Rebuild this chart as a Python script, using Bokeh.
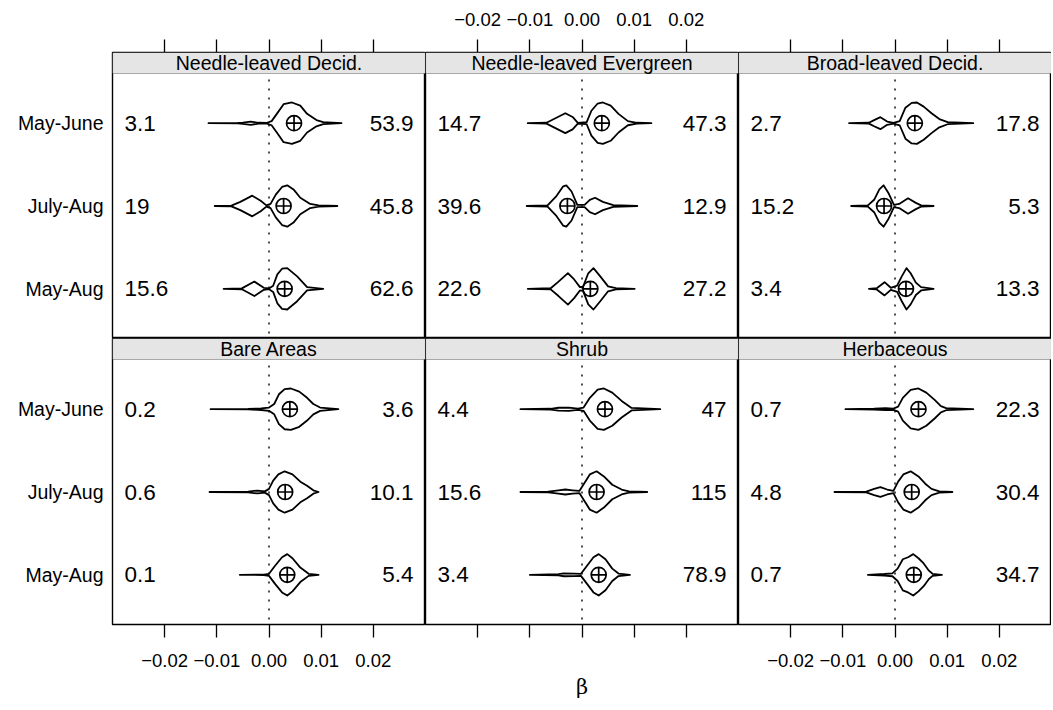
from bokeh.plotting import figure
from bokeh.layouts import gridplot
from bokeh.models import (Range1d, LinearAxis, FixedTicker, CustomJSTickFormatter,
                          BoxAnnotation, Label, Span)
from bokeh.embed import file_html
from bokeh.resources import INLINE
from bokeh.core.properties import value

# ---------------- data ----------------
cover_types = ["Needle-leaved Decid.", "Needle-leaved Evergreen", "Broad-leaved Decid.",
               "Bare Areas", "Shrub", "Herbaceous"]
periods = ["May-June", "July-Aug", "May-Aug"]
beta_ticks = [-0.02, -0.01, 0.0, 0.01, 0.02]
beta_limits = (-0.03, 0.03)

left_numbers = [[3.1, 19, 15.6], [14.7, 39.6, 22.6], [2.7, 15.2, 3.4],
                [0.2, 0.6, 0.1], [4.4, 15.6, 3.4], [0.7, 4.8, 0.7]]
right_numbers = [[53.9, 45.8, 62.6], [47.3, 12.9, 27.2], [17.8, 5.3, 13.3],
                 [3.6, 10.1, 5.4], [47, 115, 78.9], [22.3, 30.4, 34.7]]
medians = [[0.0048, 0.0028, 0.0030], [0.0038, -0.0028, 0.0016], [0.0038, -0.0021, 0.0021],
           [0.0040, 0.0031, 0.0035], [0.0044, 0.0028, 0.0032], [0.0045, 0.0032, 0.0036]]

# violin outlines: (beta, relative density)
nld_mj = [(-0.0116, 0.0), (-0.0060, 0.01), (-0.0050, 0.03), (-0.0035, 0.08), (-0.0020, 0.02),
          (-0.0005, 0.01), (0.0005, 0.10), (0.0015, 0.45), (0.0028, 0.92), (0.0044, 1.0),
          (0.0060, 0.85), (0.0073, 0.45), (0.0091, 0.15), (0.0104, 0.05), (0.0139, 0.0)]
nld_ja = [(-0.0104, 0.0), (-0.0072, 0.02), (-0.0055, 0.20), (-0.0032, 0.50), (-0.0016, 0.25),
          (-0.0005, 0.03), (0.0003, 0.10), (0.0013, 0.55), (0.0025, 0.92), (0.0035, 1.0),
          (0.0047, 0.80), (0.0060, 0.40), (0.0079, 0.10), (0.0095, 0.03), (0.0131, 0.0)]
nld_ma = [(-0.0087, 0.0), (-0.0052, 0.02), (-0.0028, 0.35), (-0.0010, 0.05), (0.0000, 0.02),
          (0.0008, 0.15), (0.0016, 0.70), (0.0025, 0.97), (0.0035, 1.0), (0.0054, 0.60),
          (0.0073, 0.08), (0.0104, 0.0)]
nle_mj = [(-0.0104, 0.0), (-0.0068, 0.02), (-0.0050, 0.25), (-0.0032, 0.48), (-0.0018, 0.30),
          (-0.0008, 0.02), (0.0009, 0.05), (0.0018, 0.60), (0.0030, 0.95), (0.0040, 1.0),
          (0.0055, 0.85), (0.0070, 0.45), (0.0088, 0.10), (0.0105, 0.02), (0.0133, 0.0)]
nle_ja = [(-0.0106, 0.0), (-0.0066, 0.03), (-0.0050, 0.45), (-0.0036, 0.95), (-0.0030, 1.0),
          (-0.0020, 0.70), (-0.0009, 0.05), (0.0005, 0.05), (0.0015, 0.30), (0.0025, 0.40),
          (0.0040, 0.20), (0.0060, 0.04), (0.0106, 0.0)]
nle_ma = [(-0.0104, 0.0), (-0.0060, 0.03), (-0.0045, 0.35), (-0.0027, 0.76), (-0.0015, 0.45),
          (-0.0004, 0.08), (0.0002, 0.10), (0.0012, 0.75), (0.0022, 1.0), (0.0035, 0.60),
          (0.0050, 0.12), (0.0065, 0.03), (0.0101, 0.0)]
bld_mj = [(-0.0088, 0.0), (-0.0050, 0.02), (-0.0040, 0.15), (-0.0028, 0.29), (-0.0015, 0.08),
          (-0.0003, 0.02), (0.0009, 0.10), (0.0020, 0.75), (0.0032, 0.98), (0.0042, 1.0),
          (0.0055, 0.80), (0.0070, 0.48), (0.0085, 0.20), (0.0101, 0.05), (0.0150, 0.0)]
bld_ja = [(-0.0084, 0.0), (-0.0052, 0.03), (-0.0040, 0.30), (-0.0030, 0.80), (-0.0022, 1.0),
          (-0.0012, 0.60), (-0.0002, 0.05), (0.0008, 0.10), (0.0025, 0.37), (0.0040, 0.15),
          (0.0050, 0.03), (0.0074, 0.0)]
bld_ma = [(-0.0050, 0.0), (-0.0035, 0.03), (-0.0020, 0.32), (-0.0008, 0.05), (0.0004, 0.15),
          (0.0013, 0.60), (0.0022, 1.0), (0.0030, 0.75), (0.0040, 0.30), (0.0050, 0.08),
          (0.0074, 0.0)]
bare_mj = [(-0.0112, 0.0), (-0.0040, 0.01), (-0.0015, 0.04), (0.0000, 0.08), (0.0010, 0.25),
           (0.0019, 0.72), (0.0030, 0.97), (0.0042, 1.0), (0.0058, 0.85), (0.0073, 0.55),
           (0.0085, 0.25), (0.0098, 0.08), (0.0133, 0.0)]
bare_ja = [(-0.0114, 0.0), (-0.0040, 0.02), (-0.0022, 0.07), (-0.0008, 0.03), (0.0000, 0.15),
           (0.0008, 0.55), (0.0018, 0.85), (0.0030, 1.0), (0.0045, 0.85), (0.0060, 0.50),
           (0.0073, 0.30), (0.0085, 0.08), (0.0095, 0.0)]
bare_ma = [(-0.0056, 0.0), (-0.0010, 0.01), (0.0000, 0.05), (0.0012, 0.45), (0.0025, 0.85),
           (0.0035, 1.0), (0.0045, 0.80), (0.0060, 0.35), (0.0076, 0.05), (0.0095, 0.0)]
shrub_mj = [(-0.0118, 0.0), (-0.0060, 0.02), (-0.0045, 0.07), (-0.0025, 0.08), (-0.0008, 0.03),
            (0.0003, 0.08), (0.0015, 0.55), (0.0030, 0.95), (0.0042, 1.0), (0.0058, 0.80),
            (0.0076, 0.40), (0.0095, 0.06), (0.0150, 0.0)]
shrub_ja = [(-0.0118, 0.0), (-0.0065, 0.02), (-0.0045, 0.08), (-0.0032, 0.12), (-0.0018, 0.08),
            (-0.0005, 0.05), (0.0005, 0.45), (0.0015, 0.85), (0.0028, 1.0), (0.0042, 0.75),
            (0.0058, 0.35), (0.0076, 0.12), (0.0090, 0.03), (0.0125, 0.0)]
shrub_ma = [(-0.0100, 0.0), (-0.0045, 0.03), (-0.0035, 0.07), (-0.0015, 0.06), (-0.0002, 0.05),
            (0.0010, 0.45), (0.0022, 0.85), (0.0032, 1.0), (0.0045, 0.75), (0.0058, 0.30),
            (0.0070, 0.06), (0.0092, 0.0)]
herb_mj = [(-0.0095, 0.0), (-0.0040, 0.02), (-0.0018, 0.05), (-0.0003, 0.03), (0.0006, 0.12),
           (0.0015, 0.55), (0.0030, 0.93), (0.0045, 1.0), (0.0060, 0.80), (0.0076, 0.45),
           (0.0088, 0.15), (0.0098, 0.05), (0.0150, 0.0)]
herb_ja = [(-0.0116, 0.0), (-0.0055, 0.02), (-0.0040, 0.15), (-0.0028, 0.24), (-0.0015, 0.12),
           (-0.0003, 0.05), (0.0006, 0.50), (0.0016, 0.85), (0.0030, 1.0), (0.0045, 0.75),
           (0.0058, 0.40), (0.0070, 0.15), (0.0085, 0.03), (0.0110, 0.0)]
herb_ma = [(-0.0052, 0.0), (-0.0020, 0.04), (-0.0005, 0.07), (0.0005, 0.30), (0.0015, 0.75),
           (0.0025, 0.85), (0.0035, 1.0), (0.0045, 0.80), (0.0055, 0.55), (0.0065, 0.20),
           (0.0072, 0.05), (0.0090, 0.0)]

profiles = [[nld_mj, nld_ja, nld_ma], [nle_mj, nle_ja, nle_ma], [bld_mj, bld_ja, bld_ma],
            [bare_mj, bare_ja, bare_ma], [shrub_mj, shrub_ja, shrub_ma], [herb_mj, herb_ja, herb_ma]]

# ---------------- layout / style ----------------
SANS = "Liberation Sans"
FRAME_W, FRAME_H = 313, 286
STRIP_PX = 21
LEFT_W, TOP_H, BOTTOM_H = 112, 52, 84
pad = 0.6
n = len(periods)
y_lo, y_hi = 1 - pad, n + pad
px_per_unit = (FRAME_H - STRIP_PX) / (y_hi - y_lo)
strip_top = y_hi + STRIP_PX / px_per_unit
half_w = 0.25
inset = 0.0023
row_y = [n - k for k in range(n)]


def fmt(v):
    return "%g" % v


def beta_axis(show_labels, standoff, label=None):
    ax = LinearAxis(ticker=FixedTicker(ticks=beta_ticks),
                    formatter=CustomJSTickFormatter(
                        code="return (tick < 0 ? '\\u2212' : '') + Math.abs(tick).toFixed(2);"),
                    major_tick_out=13, major_tick_in=0, minor_tick_out=0, minor_tick_in=0,
                    axis_line_color=None, major_tick_line_color="black",
                    major_tick_line_width=1.3,
                    major_label_text_font=SANS, major_label_text_font_size="18.5px",
                    major_label_text_color="black",
                    major_label_standoff=standoff)
    if not show_labels:
        ax.major_label_text_color = None
    if label is not None:
        ax.axis_label = label
        ax.axis_label_text_font = "DejaVu Serif"
        ax.axis_label_text_font_style = "normal"
        ax.axis_label_text_font_size = "21px"
        ax.axis_label_text_color = "black"
        ax.axis_label_standoff = 37
    return ax


def make_panel(idx, row, col):
    p = figure(frame_width=FRAME_W, frame_height=FRAME_H,
               x_range=Range1d(*beta_limits), y_range=Range1d(y_lo, strip_top),
               output_backend="svg", toolbar_location=None,
               x_axis_location=None, y_axis_location=None,
               min_border_left=LEFT_W if col == 0 else 0, min_border_right=0,
               min_border_top=TOP_H if row == 0 else 0,
               min_border_bottom=BOTTOM_H if row == 1 else 0)
    p.grid.visible = False
    p.background_fill_color = "white"
    p.border_fill_color = "white"
    p.outline_line_color = "black"
    p.outline_line_width = 1.4

    p.add_layout(Span(location=0, dimension="height", line_color="black",
                      line_dash="2 7", line_width=1.4, level="underlay"))

    xs, ys = [], []
    for k, prof in enumerate(profiles[idx]):
        yc = row_y[k]
        b = [pt[0] for pt in prof]
        d = [pt[1] for pt in prof]
        upper = [yc + half_w * v for v in d]
        lower = [yc - half_w * v for v in d]
        xs.append(b + b[::-1])
        ys.append(upper + lower[::-1])
    p.patches(xs, ys, fill_color=None, line_color="black", line_width=1.8,
              line_join="round")
    p.scatter(medians[idx], row_y, marker="circle_cross", size=15, fill_color=None,
              line_color="black", line_width=1.7)

    p.text(x=[beta_limits[0] + inset] * n, y=row_y, text=[fmt(v) for v in left_numbers[idx]],
           text_align="left", text_baseline="middle", text_font=value(SANS),
           text_font_size="22.5px", text_color="black")
    p.text(x=[beta_limits[1] - inset] * n, y=row_y, text=[fmt(v) for v in right_numbers[idx]],
           text_align="right", text_baseline="middle", text_font=value(SANS),
           text_font_size="22.5px", text_color="black")

    # strip
    p.add_layout(BoxAnnotation(bottom=y_hi, fill_color="#e5e5e5", fill_alpha=1.0,
                               line_color="black", line_width=1.2))
    p.add_layout(Label(x=sum(beta_limits) / 2, y=(y_hi + strip_top) / 2, text=cover_types[idx],
                       text_align="center", text_baseline="middle", text_font=SANS,
                       text_font_size="19.5px", text_color="black"))

    if row == 0:
        p.add_layout(beta_axis(show_labels=(col == 1), standoff=14), "above")
    else:
        p.add_layout(beta_axis(show_labels=(col != 1), standoff=16,
                               label="β" if col == 1 else None), "below")

    if col == 0:
        yax = LinearAxis(ticker=FixedTicker(ticks=row_y),
                         major_label_overrides={row_y[k]: periods[k] for k in range(n)},
                         major_tick_out=0, major_tick_in=0, minor_tick_out=0, minor_tick_in=0,
                         axis_line_color=None, major_label_standoff=9,
                         major_label_text_font=SANS, major_label_text_font_size="19.5px",
                         major_label_text_color="black")
        p.add_layout(yax, "left")
    return p


panels = [[make_panel(r * 3 + c, r, c) for c in range(3)] for r in range(2)]
grid = gridplot(panels, toolbar_location=None)

open("out.html", "w", encoding="utf-8").write(file_html(grid, INLINE, title="violins"))
